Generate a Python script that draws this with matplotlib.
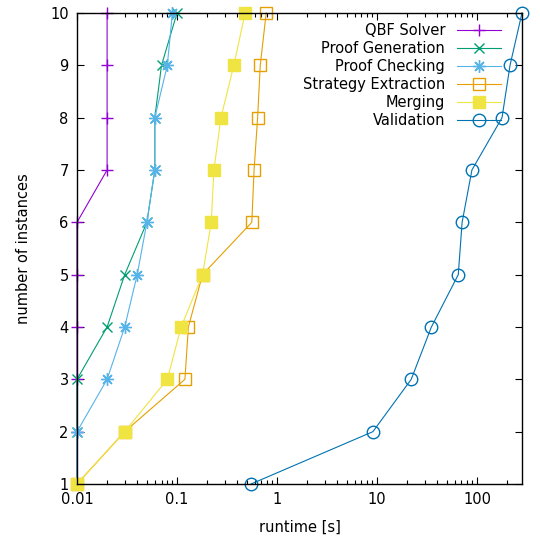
import numpy as np
import matplotlib
matplotlib.use("Agg")
import matplotlib.pyplot as plt
from matplotlib.ticker import FixedLocator, NullFormatter, LogLocator

# nombre d'instances resolues (axe y)
instances = [1, 2, 3, 4, 5, 6, 7, 8, 9, 10]

# temps cumules (en secondes)
qbf_solver = [0.01, 0.01, 0.01, 0.01, 0.01, 0.01, 0.02, 0.02, 0.02, 0.02]
proof_generation = [0.01, 0.01, 0.01, 0.02, 0.03, 0.05, 0.06, 0.06, 0.07, 0.10]
proof_checking = [0.01, 0.01, 0.02, 0.03, 0.04, 0.05, 0.06, 0.06, 0.08, 0.09]
strategy_extraction = [0.01, 0.03, 0.12, 0.13, 0.18, 0.56, 0.59, 0.64, 0.68, 0.78]
merging = [0.01, 0.03, 0.08, 0.11, 0.18, 0.22, 0.234, 0.275, 0.37, 0.48]
validation = [0.55, 9.1, 22.0, 35.0, 65.0, 71.0, 89.0, 178.0, 214.0, 282.0]

series_names = ["QBF Solver", "Proof Generation", "Proof Checking",
                "Strategy Extraction", "Merging", "Validation"]
x_ticks = [0.01, 0.1, 1, 10, 100]
x_tick_labels = ["0.01", "0.1", "1", "10", "100"]

fig = plt.figure(figsize=(5.4, 5.4), dpi=100)
ax = fig.add_axes([77 / 540, 56 / 540, 445 / 540, 471 / 540])

styles = [
    dict(color="#9400d3", marker="+", ms=9, mfc="none"),
    dict(color="#009e73", marker="x", ms=7.5, mfc="none"),
    dict(color="#56b4e9", marker=(8, 2, 0), ms=9, mfc="none"),
    dict(color="#e69f00", marker="s", ms=8, mfc="none"),
    dict(color="#f0e442", marker="s", ms=8.5, mfc="#f0e442"),
    dict(color="#0072b2", marker="o", ms=9, mfc="none"),
]
donnees = [qbf_solver, proof_generation, proof_checking,
           strategy_extraction, merging, validation]

for nom, valeurs, st in zip(series_names, donnees, styles):
    ax.plot(valeurs, instances, label=nom, lw=0.8, mew=1.0,
            clip_on=False, **st)

ax.set_xscale("log")
ax.set_xlim(0.01, max(validation))
ax.set_ylim(1, 10)
ax.xaxis.set_major_locator(FixedLocator(x_ticks))
ax.set_xticklabels(x_tick_labels)
ax.xaxis.set_minor_locator(LogLocator(base=10, subs=np.arange(2, 10)))
ax.xaxis.set_minor_formatter(NullFormatter())
ax.set_yticks(instances)

ax.tick_params(which="both", direction="in", top=True, right=True,
               labelsize=10.5, pad=6)
ax.tick_params(which="major", length=5, width=0.8)
ax.tick_params(which="minor", length=3, width=0.8)
for s in ax.spines.values():
    s.set_linewidth(1.0)

ax.set_xlabel("runtime [s]", fontsize=10.5, labelpad=9)
ax.set_ylabel("number of instances", fontsize=10.5, labelpad=14)

ax.legend(loc="upper right", frameon=False, markerfirst=False, fontsize=10.5,
          handlelength=3.0, handletextpad=0.8, labelspacing=0.2,
          borderaxespad=0.3, bbox_to_anchor=(0.975, 1.0))

fig.savefig("out.png", dpi=100)
